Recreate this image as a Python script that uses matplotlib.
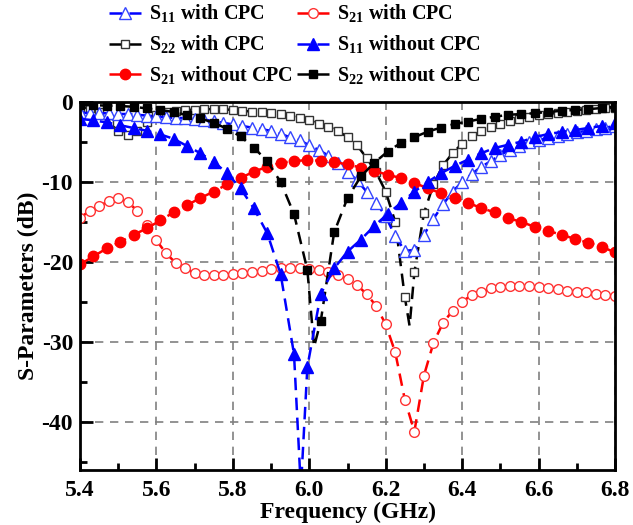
import matplotlib
matplotlib.use('Agg')
from matplotlib import pyplot as plt
from matplotlib.ticker import MultipleLocator
import numpy as np

plt.rcParams['font.family'] = ['Liberation Serif', 'DejaVu Serif']
plt.rcParams['font.weight'] = 'bold'
plt.rcParams['mathtext.fontset'] = 'custom'
plt.rcParams['mathtext.rm'] = 'Liberation Serif:bold'
plt.rcParams['mathtext.bf'] = 'Liberation Serif:bold'
plt.rcParams['axes.unicode_minus'] = False

# frequency grids (GHz)
freq_fine = np.round(5.4 + 0.025 * np.arange(57), 4)    # "with CPC" sweeps
freq_coarse = np.round(5.4 + 0.035 * np.arange(41), 4)  # "without CPC" sweeps

# with CPC
s11_with = [-1.3, -1.4, -1.4, -1.4, -1.5, -1.5, -1.6, -1.7, -1.8, -1.9,
            -2.0, -2.0, -2.1, -2.2, -2.4, -2.6, -2.8, -3.0, -3.2, -3.4,
            -3.6, -4.0, -4.4, -4.8, -5.4, -6.0, -6.7, -7.6, -8.7, -9.8,
            -11.2, -12.6, -14.3, -16.8, -18.6, -18.5, -16.6, -14.6, -12.8, -11.2,
            -10.0, -9.0, -8.1, -7.4, -6.6, -6.0, -5.5, -5.0, -4.75, -4.5,
            -4.25, -4.0, -3.8, -3.6, -3.4, -3.2, -3.0]

s21_with = [-14.5, -13.6, -13.0, -12.4, -12.0, -12.5, -13.6, -15.4, -17.3, -18.9,
            -20.1, -20.8, -21.4, -21.6, -21.6, -21.6, -21.5, -21.4, -21.2, -21.1,
            -20.9, -20.8, -20.8, -20.7, -20.9, -21.0, -21.3, -21.6, -22.1, -22.9,
            -24.0, -25.5, -27.8, -31.3, -37.2, -41.2, -34.2, -30.1, -27.6, -26.1,
            -25.0, -24.1, -23.7, -23.3, -23.1, -23.0, -23.0, -23.0, -23.1, -23.2,
            -23.4, -23.6, -23.7, -23.8, -24.0, -24.1, -24.3]

s22_with = [-0.6, -0.8, -1.2, -2.6, -3.6, -4.1, -3.6, -2.5, -1.6, -1.2,
            -1.1, -1.0, -0.95, -0.9, -0.9, -0.9, -1.0, -1.1, -1.2, -1.3,
            -1.4, -1.55, -1.75, -2.0, -2.3, -2.7, -3.1, -3.6, -4.4, -5.4,
            -7.0, -8.8, -11.2, -15.0, -24.4, -21.3, -13.9, -10.3, -7.9, -6.4,
            -5.2, -4.3, -3.6, -3.1, -2.7, -2.4, -2.1, -1.85, -1.65, -1.5,
            -1.35, -1.2, -1.1, -1.0, -0.9, -0.8, -0.7]
s22_with_dip_f, s22_with_dip = 6.2625, -28.0

# without CPC
s11_without = [-2.1, -2.3, -2.55, -2.9, -3.25, -3.6, -4.05, -4.6, -5.5, -6.4,
               -7.5, -8.9, -10.8, -13.3, -16.4, -21.5, -31.5, -33.1, -24.0, -20.8,
               -18.7, -17.2, -15.5, -14.0, -12.6, -11.2, -10.0, -8.9, -8.0, -7.2,
               -6.4, -5.75, -5.35, -4.95, -4.4, -4.0, -3.75, -3.5, -3.25, -3.0,
               -2.6]
s11_without_dip_f, s11_without_dip = 5.978, -48.3

s21_without = [-20.3, -19.3, -18.3, -17.5, -16.6, -15.8, -14.8, -13.8, -12.9, -12.0,
               -11.2, -10.3, -9.5, -8.7, -8.1, -7.6, -7.4, -7.25, -7.35, -7.5,
               -7.8, -8.2, -8.6, -9.1, -9.5, -10.1, -10.8, -11.4, -12.0, -12.6,
               -13.25, -13.8, -14.5, -15.0, -15.6, -16.1, -16.6, -17.1, -17.6, -18.1,
               -18.8]

s22_without = [-0.4, -0.4, -0.45, -0.5, -0.6, -0.8, -1.0, -1.25, -1.65, -2.05,
               -2.6, -3.35, -4.3, -5.7, -7.4, -10.0, -14.0, -21.0, -27.4, -16.3,
               -12.0, -9.3, -7.6, -6.2, -5.1, -4.4, -3.7, -3.2, -2.75, -2.45,
               -2.1, -1.85, -1.6, -1.5, -1.4, -1.25, -1.1, -1.0, -0.9, -0.75,
               -0.6]
s22_without_dip_f, s22_without_dip = 6.0125, -30.6


def with_dip(freq, vals, fd, vd):
    # add the unmarked resonance sample between two marked points
    i = int(np.searchsorted(freq, fd))
    f = np.insert(freq, i, fd)
    v = np.insert(np.array(vals, dtype=float), i, vd)
    marks = [k for k in range(len(f)) if k != i]
    return f, v, marks


fig = plt.figure(figsize=(6.33, 5.25), dpi=100)
ax = fig.add_axes([80 / 633, 1 - 470 / 525, 535 / 633, 368 / 525])

dash = (0, (5, 3))
lw = 1.8

f, v, mk = with_dip(freq_fine, s22_with, s22_with_dip_f, s22_with_dip)
h_s22w, = ax.plot(f, v, color='black', ls=dash, lw=lw, marker='s', ms=6,
                  mfc='white', mec='#333333', mew=1.0, markevery=mk)
h_s11w, = ax.plot(freq_fine, s11_with, color='blue', ls=dash, lw=lw, marker='^', ms=8,
                  mfc='white', mec='#3344ff', mew=1.0)
h_s21w, = ax.plot(freq_fine, s21_with, color='red', ls=dash, lw=lw, marker='o', ms=7,
                  mfc='white', mec='#ff3333', mew=1.0)
h_s21wo, = ax.plot(freq_coarse, s21_without, color='red', ls=dash, lw=lw, marker='o',
                   ms=7.5, mfc='red', mec='red')
f, v, mk = with_dip(freq_coarse, s22_without, s22_without_dip_f, s22_without_dip)
h_s22wo, = ax.plot(f, v, color='black', ls=dash, lw=lw, marker='s', ms=6,
                   mfc='black', mec='black', markevery=mk)
f, v, mk = with_dip(freq_coarse, s11_without, s11_without_dip_f, s11_without_dip)
h_s11wo, = ax.plot(f, v, color='blue', ls=dash, lw=lw, marker='^', ms=8.5,
                   mfc='blue', mec='blue', markevery=mk)

ax.set_xlim(5.4, 6.8)
ax.set_ylim(-46, 0)
ax.xaxis.set_major_locator(MultipleLocator(0.2))
ax.xaxis.set_minor_locator(MultipleLocator(0.1))
ax.yaxis.set_major_locator(MultipleLocator(10))
ax.yaxis.set_minor_locator(MultipleLocator(5))
ax.set_xticks([5.4, 5.6, 5.8, 6.0, 6.2, 6.4, 6.6, 6.8])
ax.set_xticklabels(['5.4', '5.6', '5.8', '6.0', '6.2', '6.4', '6.6', '6.8'])
ax.set_yticks([0, -10, -20, -30, -40])
ax.set_yticklabels(['0', '-10', '-20', '-30', '-40'])
ax.tick_params(which='both', direction='in', top=False, right=False, width=2,
               labelsize=17)
ax.tick_params(axis='x', pad=7)
ax.tick_params(axis='y', pad=5)
ax.tick_params(which='major', length=9)
ax.tick_params(which='minor', length=5)
for s in ax.spines.values():
    s.set_linewidth(2)
ax.grid(True, which='major', color='#808080', ls=(0, (5, 4)), lw=1.2)
ax.set_axisbelow(True)

ax.set_xlabel('Frequency (GHz)', fontsize=17, fontweight='bold', labelpad=1)
ax.set_ylabel('S-Parameters (dB)', fontsize=17, fontweight='bold', labelpad=2)

handles = [h_s11w, h_s22w, h_s21wo, h_s21w, h_s11wo, h_s22wo]
labels = [r'S$_{11}$ with CPC', r'S$_{22}$ with CPC', r'S$_{21}$ without CPC',
          r'S$_{21}$ with CPC', r'S$_{11}$ without CPC', r'S$_{22}$ without CPC']
fig.legend(handles, labels, ncol=2, loc='upper left', bbox_to_anchor=(106 / 633, 1.0),
           frameon=False, fontsize=14.5, handlelength=1.6, handletextpad=0.4,
           columnspacing=0.2, labelspacing=0.42, borderpad=0.15, borderaxespad=0)

plt.savefig('out.png', dpi=100)
